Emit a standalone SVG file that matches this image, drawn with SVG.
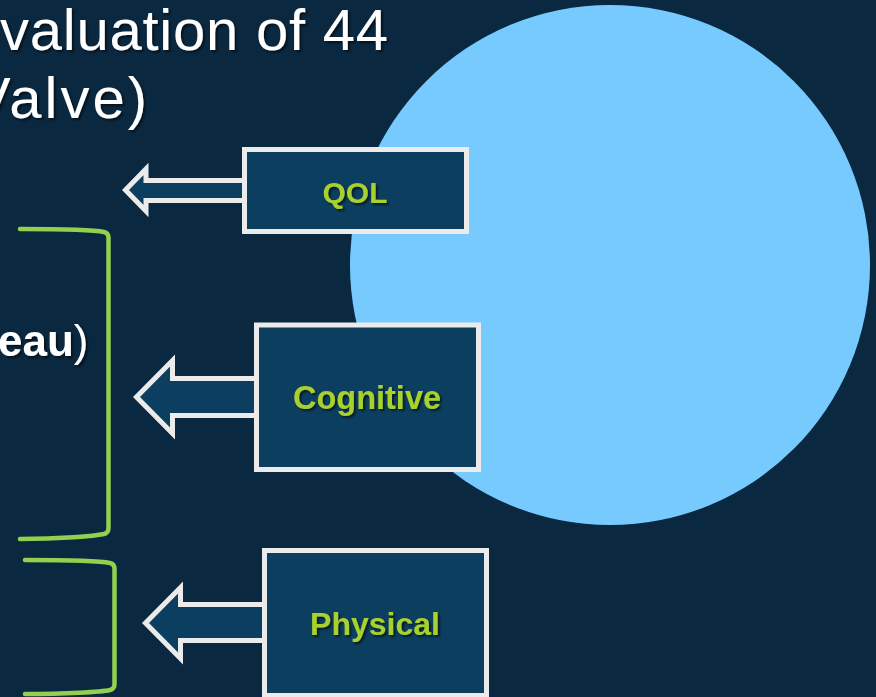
<svg xmlns="http://www.w3.org/2000/svg" width="876" height="697" viewBox="0 0 876 697">
  <defs>
    <filter id="sh" x="-10%" y="-20%" width="130%" height="150%">
      <feDropShadow dx="2" dy="2" stdDeviation="1.2" flood-color="#000" flood-opacity="0.55"/>
    </filter>
  </defs>
  <style>
    .title { font-family: "Liberation Sans", Arial, sans-serif; font-size: 58px; fill: #ffffff; }
    .box { fill: #0c3e5f; stroke: #ebebeb; stroke-width: 5; }
    .arrow { fill: #0c3e5f; stroke: #ebebeb; stroke-width: 5; stroke-linejoin: miter; }
    .lbl { font-family: "Liberation Sans", Arial, sans-serif; font-weight: bold; fill: #a9d12f; text-anchor: middle; }
    .brace { fill: none; stroke: #92d050; stroke-width: 4.5; stroke-linecap: round; stroke-linejoin: round; }
  </style>
  <rect width="876" height="697" fill="#0a2840"/>
  <circle id="circle" cx="610" cy="265" r="260" fill="#76cafe"/>

  <g id="title" filter="url(#sh)">
    <text class="title" x="0" y="50" textLength="388" lengthAdjust="spacing">valuation of 44</text>
    <text class="title" x="-28" y="118" textLength="175" lengthAdjust="spacing">Valve)</text>
    <text x="-2" y="356" font-family="Liberation Sans, Arial, sans-serif" font-size="44" fill="#ffffff"><tspan font-weight="bold">eau</tspan>)</text>
  </g>

  <g id="braces">
    <path class="brace" d="M20,229 C60,229 95,230 104,232 Q108.5,233 108.5,238 L108.5,528 Q108.5,533 104,534 C95,536 60,539 20,539"/>
    <path class="brace" d="M25,560 C65,560 101,561 110,563 Q114.5,564 114.5,569 L114.5,684 Q114.5,689 110,690 C101,692 65,694 25,694"/>
  </g>

  <g id="connectors">
    <polygon class="arrow" points="125.5,190 146,169 146,180.5 250,180.5 250,200.5 146,200.5 146,211"/>
    <polygon class="arrow" points="136.5,397 172.5,360.5 172.5,378.5 262,378.5 262,415.5 172.5,415.5 172.5,433.5"/>
    <polygon class="arrow" points="145.5,623 180.5,587.5 180.5,604.5 270,604.5 270,640.5 180.5,640.5 180.5,658.5"/>
  </g>

  <g id="qol">
    <rect class="box" x="244.5" y="149.5" width="222" height="82"/>
    <text class="lbl" x="355" y="203" font-size="30" font-weight="normal" filter="url(#sh)">QOL</text>
  </g>
  <g id="cognitive">
    <rect class="box" x="256.5" y="325" width="222" height="144.5"/>
    <text class="lbl" x="367" y="409" font-size="32.5" filter="url(#sh)">Cognitive</text>
  </g>
  <g id="physical">
    <rect class="box" x="264.5" y="550.5" width="222" height="145"/>
    <text class="lbl" x="375" y="635" font-size="32" filter="url(#sh)">Physical</text>
  </g>
</svg>
